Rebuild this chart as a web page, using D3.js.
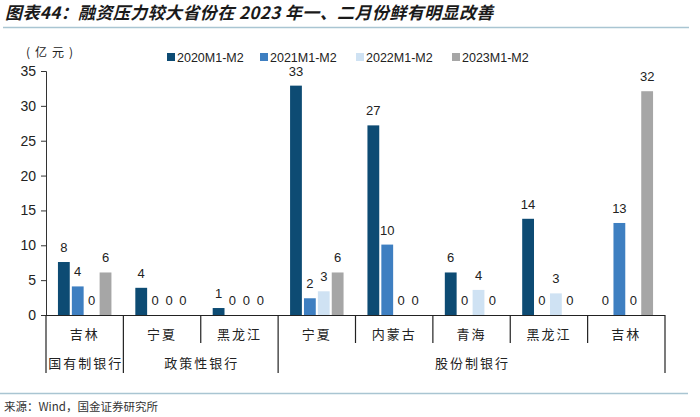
<!DOCTYPE html>
<html><head><meta charset="utf-8">
<script src="https://cdn.jsdelivr.net/npm/d3@7/dist/d3.min.js"></script>
<style>
body{margin:0;background:#fff;}
svg{display:block;font-family:"Liberation Sans",Arial,sans-serif;}
</style></head>
<body><svg id="c" width="700" height="417"></svg>
<script>
const categories = ["吉林","宁夏","黑龙江","宁夏","内蒙古","青海","黑龙江","吉林"];
const groups = [
  {name:"国有制银行", from:0, to:1},
  {name:"政策性银行", from:1, to:3},
  {name:"股份制银行", from:3, to:8}
];
const seriesNames = ["2020M1-M2","2021M1-M2","2022M1-M2","2023M1-M2"];
const s2020 = [7.6, 3.9, 1.0, 32.9, 27.2, 6.1, 13.8, 0];
const s2021 = [4.1, 0, 0, 2.4, 10.1, 0, 0, 13.2];
const s2022 = [0, 0, 0, 3.4, 0, 3.6, 3.1, 0];
const s2023 = [6.1, 0, 0, 6.1, 0, 0, 0, 32.1];
const yTicks = [0,5,10,15,20,25,30,35];
const colors = ["#0d4b73","#3e7fc1","#cfe2f3","#a6a6a6"];
const seriesValues = [s2020, s2021, s2022, s2023];

const svg = d3.select("#c");
const cjk = '"Noto Sans CJK SC","Noto Sans",sans-serif';

// title
svg.append("text").attr("x",5).attr("y",19)
  .attr("font-family",cjk).attr("font-size",17).attr("font-weight","bold")
  .attr("font-style","italic").attr("letter-spacing",0.4).attr("fill","#1a1a1a")
  .text("图表44：融资压力较大省份在 2023 年一、二月份鲜有明显改善");
svg.append("line").attr("x1",3).attr("x2",689).attr("y1",27.5).attr("y2",27.5)
  .attr("stroke","#a9c5d2").attr("stroke-width",1.5);

const pLeft = 46, pRight = 665, pTop = 71, pBottom = 315;
const x0 = d3.scaleBand().domain(d3.range(categories.length)).range([pLeft,pRight]).padding(0);
const x1 = d3.scaleBand().domain(d3.range(seriesNames.length)).range([0,x0.bandwidth()])
  .paddingInner(0.15).paddingOuter(0.86);
const y = d3.scaleLinear().domain([0,35]).range([pBottom,pTop]);

// unit
svg.append("text").attr("x",26).attr("y",57).attr("font-family",cjk).attr("font-size",12)
  .attr("letter-spacing",5).attr("fill","#222").text("(亿元)");

// y axis
const yAxis = svg.append("g").attr("transform",`translate(${pLeft},0)`)
  .call(d3.axisLeft(y).tickValues(yTicks).tickSize(5).tickPadding(5));
yAxis.select(".domain").attr("stroke","#333");
yAxis.selectAll(".tick line").attr("stroke","#333");
yAxis.selectAll(".tick text").attr("font-size",14).attr("fill","#222")
  .attr("font-family",'"Liberation Sans",Arial,sans-serif');

// bars
seriesValues.forEach((vals,si)=>{
  const g = svg.append("g");
  g.selectAll("rect").data(vals).join("rect")
    .attr("x",(d,i)=>x0(i)+x1(si))
    .attr("width",x1.bandwidth())
    .attr("y",d=>y(d))
    .attr("height",d=>y(0)-y(d))
    .attr("fill",colors[si]);
  g.selectAll("text").data(vals).join("text")
    .attr("x",(d,i)=>x0(i)+x1(si)+x1.bandwidth()/2)
    .attr("y",d=>y(d)-10)
    .attr("text-anchor","middle").attr("font-size",13).attr("fill","#222")
    .text(d=>Math.round(d));
});

// x axis line
svg.append("line").attr("x1",pLeft).attr("x2",pRight).attr("y1",pBottom+0.5).attr("y2",pBottom+0.5)
  .attr("stroke","#222").attr("stroke-width",1.2);

// separators
const groupEdges = new Set();
groups.forEach(g=>{groupEdges.add(g.from); groupEdges.add(g.to);});
for(let i=0;i<=categories.length;i++){
  const xx = i<categories.length ? x0(i) : pRight;
  const isLong = groupEdges.has(i);
  svg.append("line").attr("x1",xx).attr("x2",xx).attr("y1",pBottom).attr("y2",isLong?373:343)
    .attr("stroke","#222").attr("stroke-width",1.2);
}
// category labels
svg.append("g").selectAll("text").data(categories).join("text")
  .attr("x",(d,i)=>x0(i)+x0.bandwidth()/2).attr("y",339)
  .attr("text-anchor","middle").attr("font-family",cjk).attr("font-size",13)
  .attr("letter-spacing",2).attr("fill","#222").text(d=>d);
// group labels
svg.append("g").selectAll("text").data(groups).join("text")
  .attr("x",d=>(x0(d.from)+(d.to<categories.length?x0(d.to):pRight))/2+1).attr("y",368)
  .attr("text-anchor","middle").attr("font-family",cjk).attr("font-size",13)
  .attr("letter-spacing",2).attr("fill","#222").text(d=>d.name);

// legend
const legX = [167,260,356,452];
seriesNames.forEach((n,i)=>{
  svg.append("rect").attr("x",legX[i]).attr("y",53).attr("width",8).attr("height",8).attr("fill",colors[i]);
  svg.append("text").attr("x",legX[i]+10).attr("y",61.5).attr("font-size",12.5).attr("fill","#222").text(n);
});

// bottom
svg.append("line").attr("x1",0).attr("x2",688).attr("y1",393.5).attr("y2",393.5)
  .attr("stroke","#a9c5d2").attr("stroke-width",1.5);
svg.append("text").attr("x",4).attr("y",411).attr("font-family",cjk).attr("font-size",11.5)
  .attr("fill","#333").text("来源：Wind，国金证券研究所");
</script></body></html>
